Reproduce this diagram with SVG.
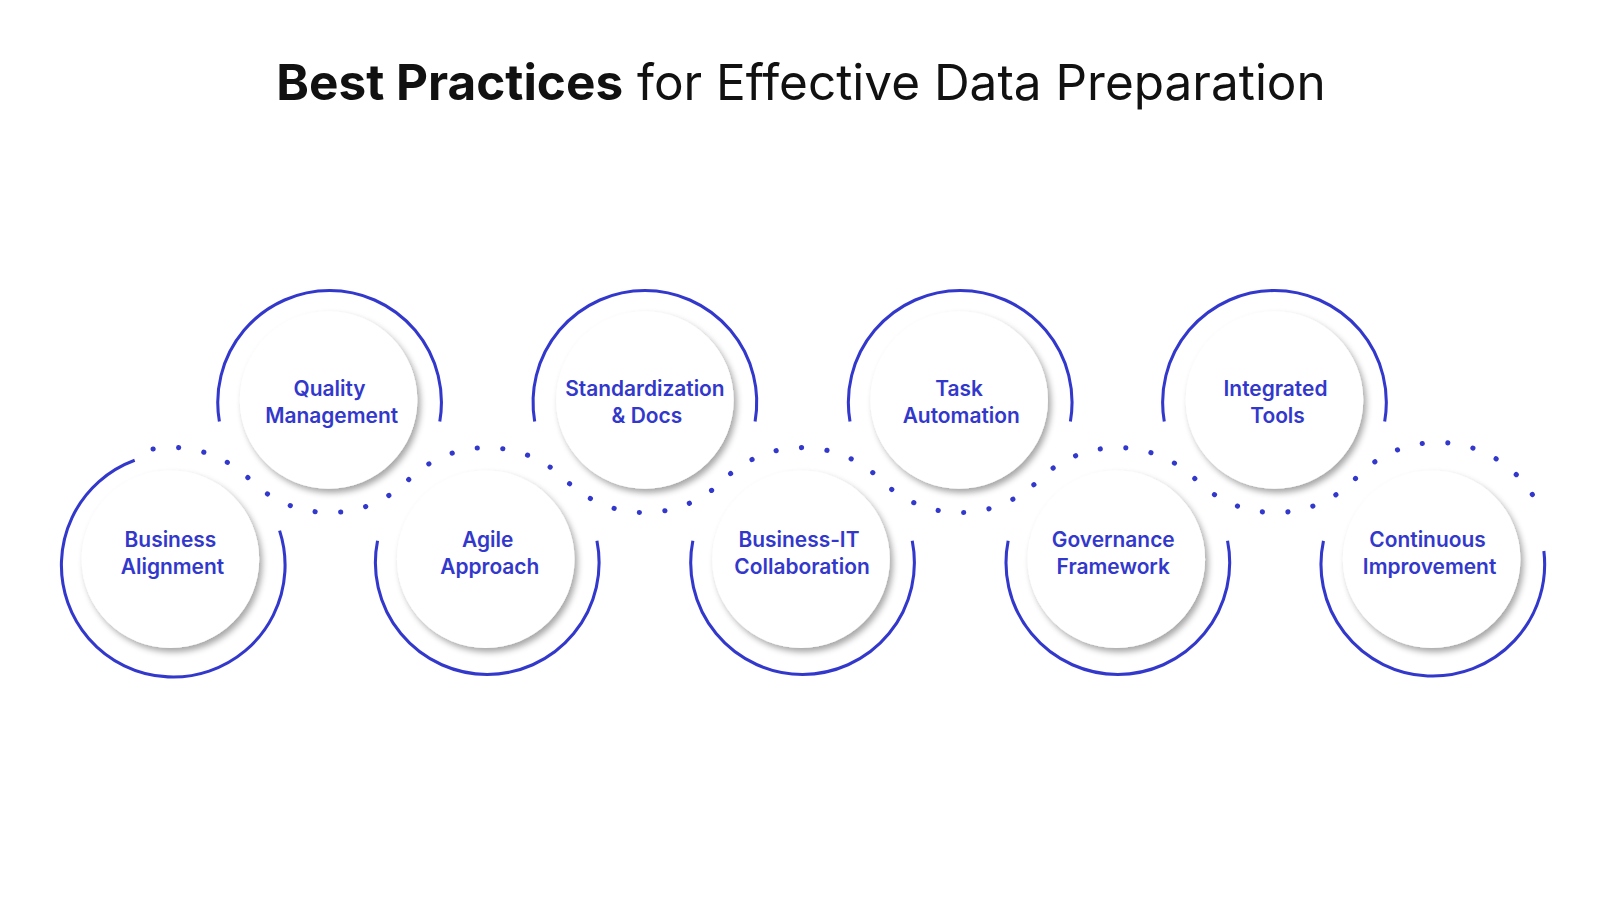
<svg xmlns="http://www.w3.org/2000/svg" width="1600" height="900" viewBox="0 0 1600 900">
<style>
.ring{fill:none;stroke:#3338cc;stroke-width:3}
.dot{fill:none;stroke:#3338cc;stroke-width:5;stroke-linecap:round;stroke-dasharray:0.1 25}
.inner{fill:#fff;filter:url(#sh)}
.lbl{font-family:Inter,"Noto Sans",sans-serif;font-weight:600;font-size:20.5px;fill:#3338cc;text-anchor:middle}
</style>
<defs><filter id="sh" x="-20%" y="-20%" width="150%" height="150%"><feDropShadow dx="3" dy="4" stdDeviation="3" flood-color="#000" flood-opacity="0.35"/></filter></defs>
<rect width="1600" height="900" fill="#fff"/>
<g transform="scale(1.0204)">
<text x="785" y="98" font-family="Inter,'Noto Sans',sans-serif" font-size="48.5" fill="#111" text-anchor="middle"><tspan font-weight="700">Best Practices</tspan> for Effective Data Preparation</text>
<g id="connectors">
<path class="dot" d="M150,440 A109.6,109.6 0 0 1 245.5,470.5 A109.6,109.6 0 0 0 400,470.5 A109.6,109.6 0 0 1 554.5,470.5 A109.6,109.6 0 0 0 709,470.5 A109.6,109.6 0 0 1 863.5,470.5 A109.6,109.6 0 0 0 1018,470.5 A109.6,109.6 0 0 1 1172.5,470.5 A109.6,109.6 0 0 0 1327,470.5 A109.6,109.6 0 0 1 1507,494"/>
</g>
<g id="n1"><path class="ring" d="M132,451 A109.6,109.6 0 1 0 274,520"/><circle class="inner" cx="167" cy="548" r="87"/><text class="lbl" x="167" y="536">Business</text><text class="lbl" x="169" y="563">Alignment</text></g>
<g id="n2"><path class="ring" d="M215,413 A109.6,109.6 0 1 1 431,413"/><circle class="inner" cx="322" cy="392" r="87"/><text class="lbl" x="323" y="388">Quality</text><text class="lbl" x="325" y="415">Management</text></g>
<g id="n3"><path class="ring" d="M370,530 A109.6,109.6 0 1 0 585,530"/><circle class="inner" cx="476" cy="548" r="87"/><text class="lbl" x="478" y="536">Agile</text><text class="lbl" x="480" y="563">Approach</text></g>
<g id="n4"><path class="ring" d="M524,413 A109.6,109.6 0 1 1 740,413"/><circle class="inner" cx="632" cy="392" r="87"/><text class="lbl" x="632" y="388">Standardization</text><text class="lbl" x="634" y="415">&amp; Docs</text></g>
<g id="n5"><path class="ring" d="M679,530 A109.6,109.6 0 1 0 894,530"/><circle class="inner" cx="785" cy="548" r="87"/><text class="lbl" x="783" y="536">Business-IT</text><text class="lbl" x="786" y="563">Collaboration</text></g>
<g id="n6"><path class="ring" d="M833,413 A109.6,109.6 0 1 1 1049,413"/><circle class="inner" cx="940" cy="392" r="87"/><text class="lbl" x="940" y="388">Task</text><text class="lbl" x="942" y="415">Automation</text></g>
<g id="n7"><path class="ring" d="M988,530 A109.6,109.6 0 1 0 1203,530"/><circle class="inner" cx="1094" cy="548" r="87"/><text class="lbl" x="1091" y="536">Governance</text><text class="lbl" x="1091" y="563">Framework</text></g>
<g id="n8"><path class="ring" d="M1141,413 A109.6,109.6 0 1 1 1357,413"/><circle class="inner" cx="1249" cy="392" r="87"/><text class="lbl" x="1250" y="388">Integrated</text><text class="lbl" x="1252" y="415">Tools</text></g>
<g id="n9"><path class="ring" d="M1297,530 A109.6,109.6 0 1 0 1513,540"/><circle class="inner" cx="1403" cy="548" r="87"/><text class="lbl" x="1399" y="536">Continuous</text><text class="lbl" x="1401" y="563">Improvement</text></g>
</g>
</svg>
